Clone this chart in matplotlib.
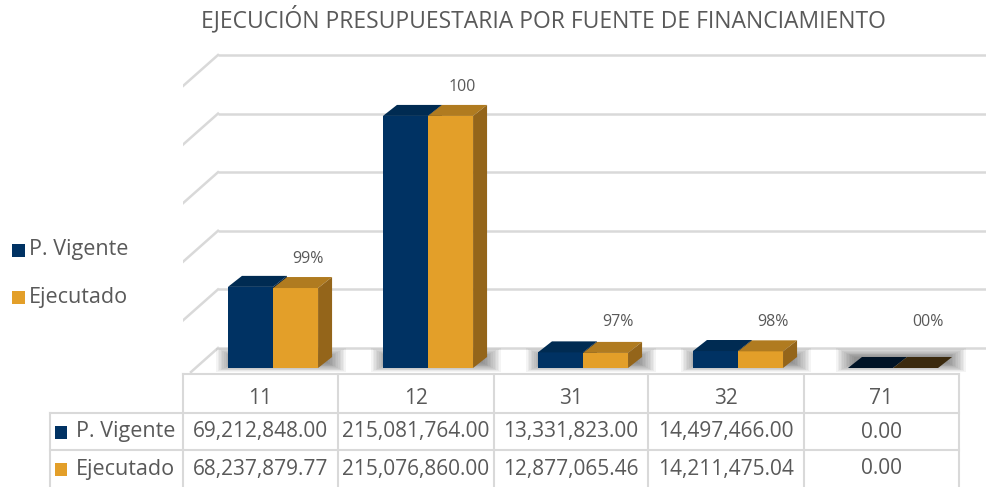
import numpy as np
import matplotlib
matplotlib.use('Agg')
import matplotlib.pyplot as plt
from matplotlib.patches import Polygon, Rectangle

# datos
fuentes = ['11', '12', '31', '32', '71']
series = ['P. Vigente', 'Ejecutado']
vigente = [69212848.00, 215081764.00, 13331823.00, 14497466.00, 0.00]
ejecutado = [68237879.77, 215076860.00, 12877065.46, 14211475.04, 0.00]
etiquetas = ['99%', '100', '97%', '98%', '00%']

W, H = 986, 487
plt.rcParams['font.family'] = ['Open Sans', 'DejaVu Sans']
fig = plt.figure(figsize=(W / 100, H / 100), dpi=100)
gris = '#595959'
linea = '#D9D9D9'

# area del grafico (en pixeles de la figura)
L, R, T, B = 183, 986, 40, 375
ax = fig.add_axes([L / W, 1 - B / H, (R - L) / W, (B - T) / H])
px_cat = 155.0   # pixeles por categoria
x0 = 261.0       # centro de la primera categoria
px_m = 1.172     # pixeles por millon
y_floor = 348
ax.set_xlim((L - x0) / px_cat, (R - x0) / px_cat)
ax.set_ylim((y_floor - B) / px_m, (y_floor - T) / px_m)
ax.axis('off')

def dx(p):
    return p / px_cat

def dy(p):
    return p / px_m

# pared del fondo y lateral
xw = dx(218 - x0)
xr = ax.get_xlim()[1]
for g in range(0, 251, 50):
    ax.plot([xw, xr], [g, g], color=linea, lw=1.8, zorder=1, solid_capstyle='butt')
    if g > 0:
        ax.plot([xw, xw - dx(35)], [g, g - dy(31)], color=linea, lw=1.8, zorder=1)
# piso
xf = xw - dx(27)
ax.plot([xw, xf], [0, -dy(24)], color=linea, lw=1.8, zorder=1)

# barras con efecto 3D
w = dx(45)
base = -dy(368 - y_floor)
off = [-0.068, 0.223]
cara = ['#003263', '#E39F29']
tapa = ['#002B52', '#B07B20']
lado = ['#00203F', '#94651A']
cero = ['#001326', '#3B2A0E']
ddx, ddy = dx(14), dy(11)
idx = np.arange(len(fuentes))

# sombras difuminadas bajo las barras
for i in idx:
    xa = i + off[0] - w / 2 - dx(12)
    xb = i + off[1] + w / 2 + ddx + dx(14)
    for k in range(12):
        ax.add_patch(Rectangle((xa + dx(1.6 * k), base - dy(4) + dy(0.8 * k)),
                               xb - xa - dx(3.2 * k), dy(24) - dy(1.6 * k),
                               color='black', alpha=0.045, lw=0, zorder=2))

for s, vals in enumerate([vigente, ejecutado]):
    v = np.array(vals) / 1e6
    z = 4 + 3 * s
    bars = ax.bar(idx + off[s], v, width=w, bottom=base, color=cara[s], zorder=z)
    for b, val in zip(bars, v):
        x1 = b.get_x()
        x2 = x1 + b.get_width()
        top = b.get_y() + b.get_height()
        ct = cero[s] if val == 0 else tapa[s]
        ax.add_patch(Polygon([(x1, top), (x2, top), (x2 + ddx, top + ddy), (x1 + ddx, top + ddy)],
                             closed=True, color=ct, lw=0, zorder=z + 1))
        ax.add_patch(Polygon([(x2, base), (x2 + ddx, base + ddy), (x2 + ddx, top + ddy), (x2, top)],
                             closed=True, color=lado[s], lw=0, zorder=z + 1))

# etiquetas de datos
ve = np.array(ejecutado) / 1e6
for i, lab in enumerate(etiquetas):
    ax.text(i + off[1] + dx(12), max(ve[i] + 8, 22), lab, ha='center', va='center',
            fontsize=11.5, color=gris, zorder=10)

# capa superior: titulo, leyenda y tabla
ov = fig.add_axes([0, 0, 1, 1])
ov.set_xlim(0, W)
ov.set_ylim(H, 0)
ov.axis('off')

ov.text(543, 20, 'EJECUCIÓN PRESUPUESTARIA POR FUENTE DE FINANCIAMIENTO',
        ha='center', va='center', fontsize=16.5, color=gris)

for j, nombre in enumerate(series):
    yy = 250 + 47 * j
    ov.add_patch(Rectangle((12, yy - 6.5), 13, 13, color=cara[j], lw=0))
    ov.text(29, yy, nombre, ha='left', va='center', fontsize=15.5, color=gris)

cols = [183, 338, 494, 648, 804, 959]
for c in cols:
    ov.plot([c, c], [374, 487], color=linea, lw=1.5)
ov.plot([50, 50], [413, 487], color=linea, lw=1.5)
ov.plot([183, 959], [374, 374], color=linea, lw=1.5)
for yy in [413, 450]:
    ov.plot([50, 959], [yy, yy], color=linea, lw=1.5)

for i, f in enumerate(fuentes):
    cx = (cols[i] + cols[i + 1]) / 2
    ov.text(cx, 398, f, ha='center', va='center', fontsize=15, color=gris)
    ov.text(cx, 432, f'{vigente[i]:,.2f}', ha='center', va='center', fontsize=15, color=gris)
    ov.text(cx, 469, f'{ejecutado[i]:,.2f}', ha='center', va='center', fontsize=15, color=gris)

for j, nombre in enumerate(series):
    yy = 432 + 37 * j
    ov.add_patch(Rectangle((55, yy - 6.5), 12, 13, color=cara[j], lw=0))
    ov.text(76, yy, nombre, ha='left', va='center', fontsize=15.5, color=gris)

fig.savefig('out.png', dpi=100)
